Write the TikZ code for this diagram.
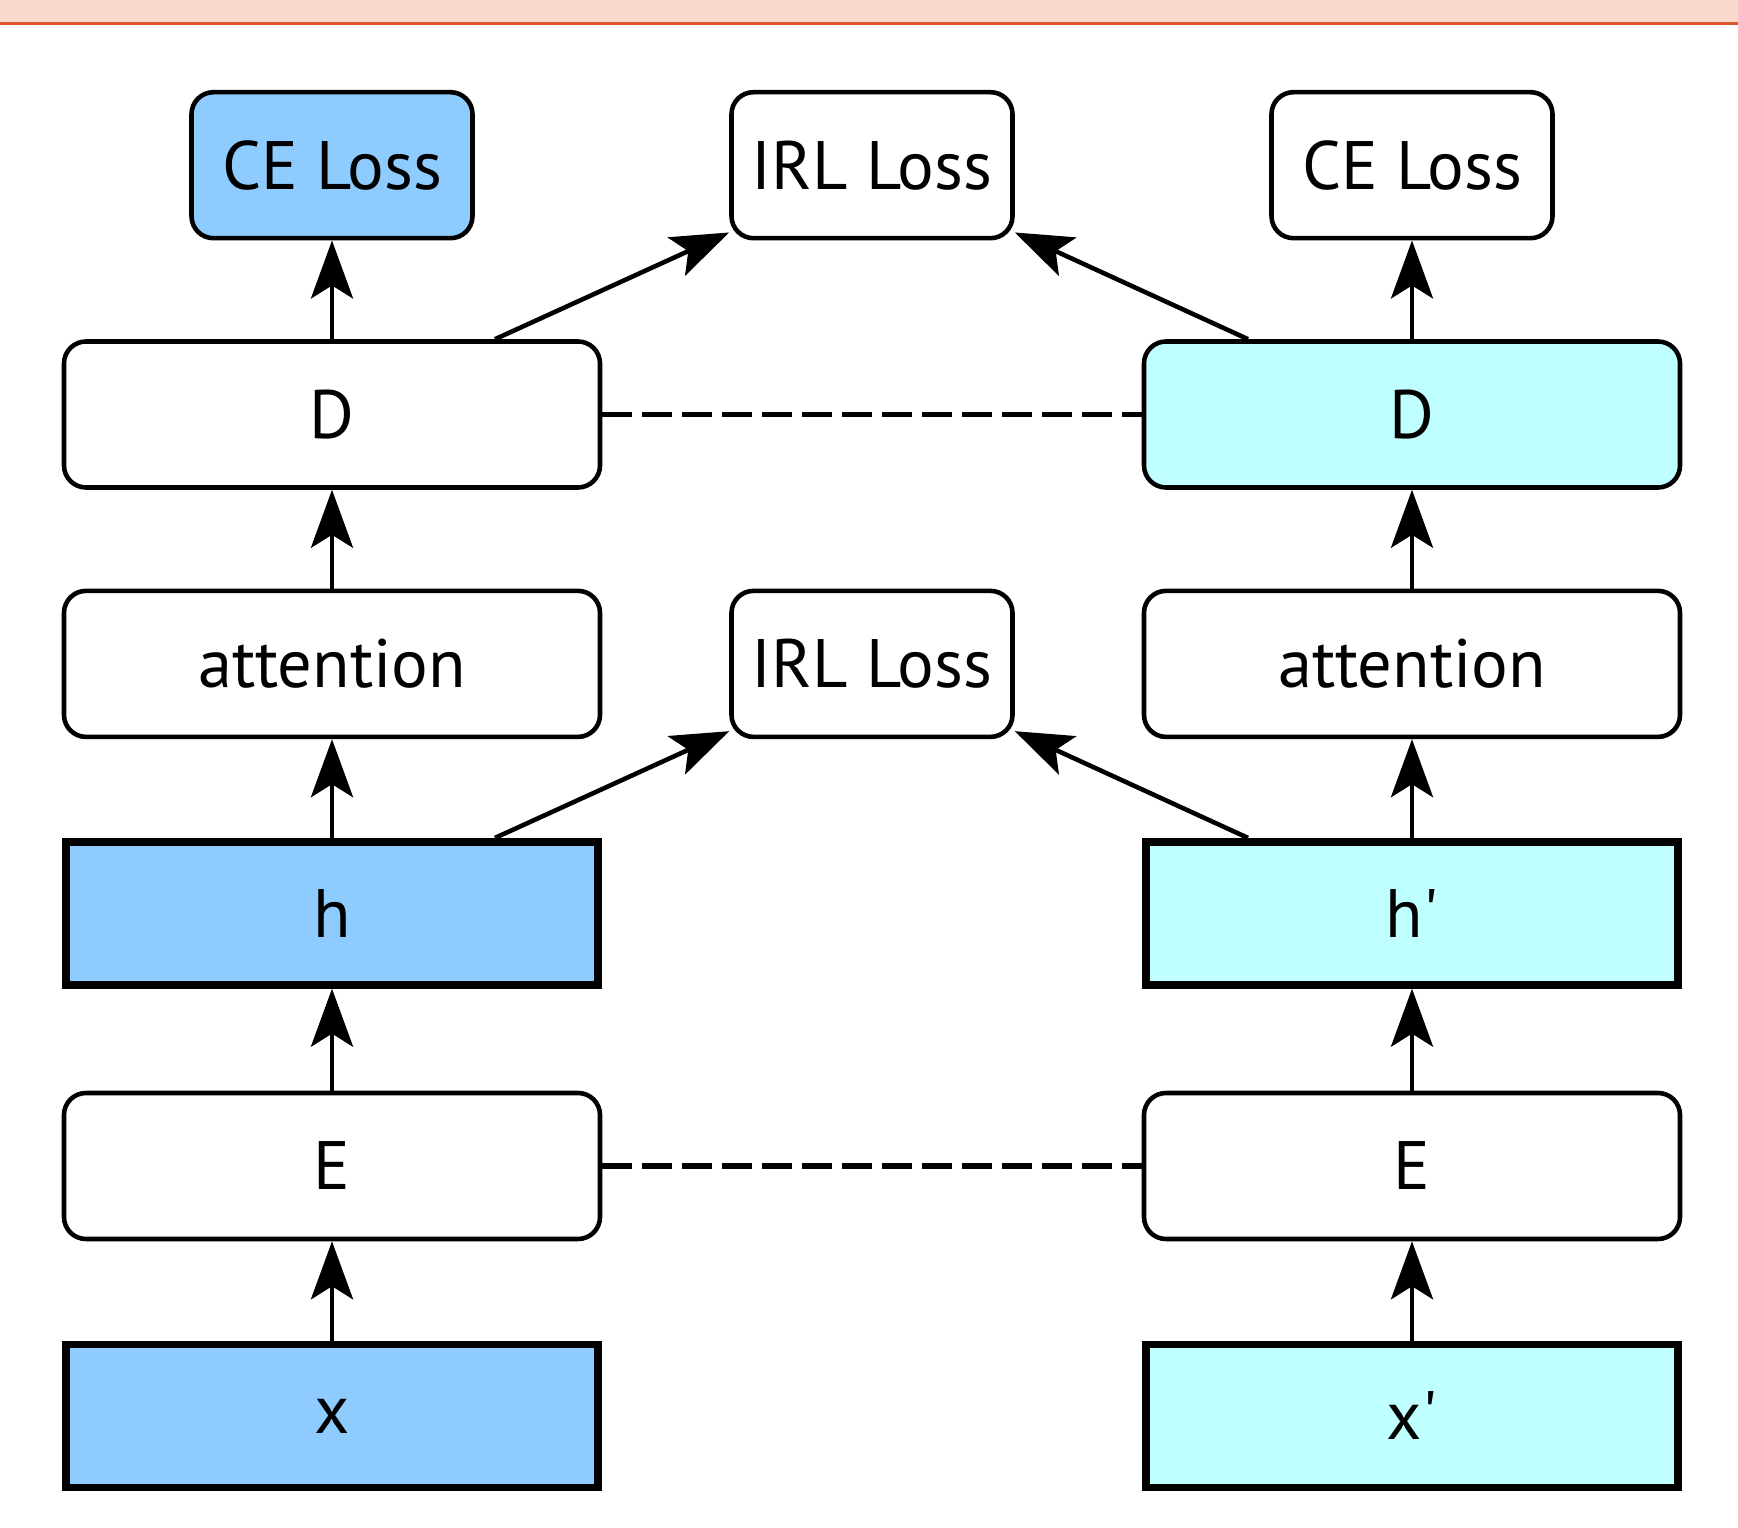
\documentclass[tikz,border=0pt]{standalone}
\usepackage{fontspec}
\setmainfont{PT Sans}
\usepackage{xcolor}
\usetikzlibrary{arrows.meta}

\definecolor{srcblue}{HTML}{8ECCFF}
\definecolor{tgtcyan}{HTML}{BFFFFF}
\definecolor{bandpeach}{HTML}{F8D9CC}
\definecolor{bandline}{HTML}{DE5A2E}

\begin{document}
\begin{tikzpicture}[
		box/.style={draw=black, line width=1.3pt, rounded corners=0.22cm, fill=white,
			minimum width=5.36cm, minimum height=1.46cm,
			font=\fontsize{19.5}{23}\selectfont},
		lossbox/.style={box, minimum width=2.81cm},
		featbox/.style={box, rounded corners=0pt, line width=2.2pt,
			minimum width=5.32cm, minimum height=1.43cm},
		arr/.style={line width=1.3pt, -{Stealth[length=0.58cm, width=0.42cm, inset=0.13cm]}},
		tied/.style={line width=1.6pt, dash pattern=on 0.3cm off 0.1cm}
	]
		\useasboundingbox (0,0) rectangle (17.38,15.27);
		% strip along the top edge
		\fill[bandpeach] (0,15.04) rectangle (17.38,15.27);
		\draw[bandline, line width=0.03cm] (0,15.03) -- (17.38,15.03);

		% source branch
		\node[featbox, fill=srcblue] (x) at (3.32,1.11) {x};
		\node[box] (encL) at (3.32,3.61) {E};
		\node[featbox, fill=srcblue] (h) at (3.32,6.137) {h};
		\node[box] (attL) at (3.32,8.631) {attention};
		\node[box] (decL) at (3.32,11.125) {D};
		\node[lossbox, fill=srcblue] (ceL) at (3.32,13.618) {CE Loss};

		% target branch
		\node[featbox, fill=tgtcyan] (xp) at (14.12,1.11) {x\textquotesingle};
		\node[box] (encR) at (14.12,3.61) {E};
		\node[featbox, fill=tgtcyan] (hp) at (14.12,6.137) {h\textquotesingle};
		\node[box] (attR) at (14.12,8.631) {attention};
		\node[box, fill=tgtcyan] (decR) at (14.12,11.125) {D};
		\node[lossbox] (ceR) at (14.12,13.618) {CE Loss};

		% losses between the branches
		\node[lossbox] (irlMid) at (8.72,8.631) {IRL Loss};
		\node[lossbox] (irlTop) at (8.72,13.618) {IRL Loss};

		\draw[arr] (x) -- (encL);
		\draw[arr] (encL) -- (h);
		\draw[arr] (h) -- (attL);
		\draw[arr] (attL) -- (decL);
		\draw[arr] (decL) -- (ceL);

		\draw[arr] (xp) -- (encR);
		\draw[arr] (encR) -- (hp);
		\draw[arr] (hp) -- (attR);
		\draw[arr] (attR) -- (decR);
		\draw[arr] (decR) -- (ceR);

		\draw[arr] ([xshift=1.63cm]h.north) -- ([yshift=0.08cm]irlMid.south west);
		\draw[arr] ([xshift=-1.64cm]hp.north) -- ([yshift=0.08cm]irlMid.south east);
		\draw[arr] ([xshift=1.63cm]decL.north) -- ([yshift=0.08cm]irlTop.south west);
		\draw[arr] ([xshift=-1.64cm]decR.north) -- ([yshift=0.08cm]irlTop.south east);

		% shared weights
		\draw[tied] (encL) -- (encR);
		\draw[tied] (decL) -- (decR);
\end{tikzpicture}
\end{document}
